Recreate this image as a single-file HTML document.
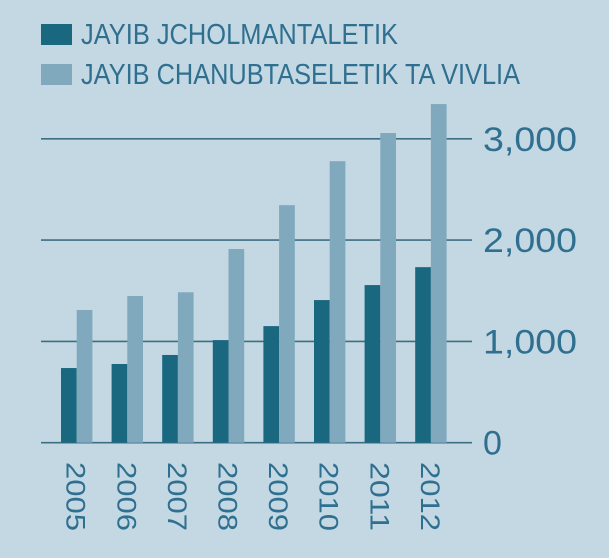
<!DOCTYPE html>
<html><head><meta charset="utf-8"><style>
html,body{margin:0;padding:0;background:#c3d8e3;}
svg{display:block;font-family:"Liberation Sans",sans-serif;}
</style></head><body>
<svg id="chart" width="609" height="558" viewBox="0 0 609 558" xmlns="http://www.w3.org/2000/svg">
<rect x="0" y="0" width="609" height="558" fill="#c3d8e3"/>
<g>
<rect x="41" y="24" width="31" height="21" fill="#1a6880"/>
<text x="81" y="44" font-size="29" fill="#2f6f8f" textLength="317" lengthAdjust="spacingAndGlyphs">JAYIB JCHOLMANTALETIK</text>
<rect x="41" y="64" width="31" height="21" fill="#80a9bd"/>
<text x="81" y="84" font-size="29" fill="#2f6f8f" textLength="439" lengthAdjust="spacingAndGlyphs">JAYIB CHANUBTASELETIK TA VIVLIA</text>
</g>
<g id="grid"></g>
<g id="bars"></g>
<g id="labels"></g>
</svg>
<script>
const years = ["2005","2006","2007","2008","2009","2010","2011","2012"];
const jcholmantaletik = [737, 777, 866, 1013, 1151, 1408, 1556, 1733];
const chanubtaseletik = [1310, 1448, 1485, 1912, 2345, 2779, 3057, 3343];
const yTicks = [0, 1000, 2000, 3000];
const yTickLabels = ["0", "1,000", "2,000", "3,000"];

const NS = "http://www.w3.org/2000/svg";
const y0 = 442.7, pxPer = 0.1013;
function yScale(v){ return y0 - v * pxPer; }
function xScale(i){ return 61 + i * 50.6; }
const bw = 15.7;

const grid = document.getElementById("grid");
yTicks.forEach((t, i) => {
  const l = document.createElementNS(NS, "line");
  l.setAttribute("x1", 41); l.setAttribute("x2", 472);
  l.setAttribute("y1", yScale(t)); l.setAttribute("y2", yScale(t));
  l.setAttribute("stroke", "#3d6f82"); l.setAttribute("stroke-width", "1.6");
  
  
  grid.appendChild(l);
  const tx = document.createElementNS(NS, "text");
  tx.setAttribute("x", 483); tx.setAttribute("y", yScale(t) + 12);
  tx.setAttribute("font-size", "34"); tx.setAttribute("fill", "#2f6f8f");
  if (yTickLabels[i].length > 1) {
    tx.setAttribute("textLength", "94");
    tx.setAttribute("lengthAdjust", "spacingAndGlyphs");
  }
  tx.textContent = yTickLabels[i];
  
  
  grid.appendChild(tx);
});

const bars = document.getElementById("bars");
const labels = document.getElementById("labels");
years.forEach((yr, i) => {
  const x = xScale(i);
  const r1 = document.createElementNS(NS, "rect");
  r1.setAttribute("x", x); r1.setAttribute("width", bw);
  r1.setAttribute("y", yScale(jcholmantaletik[i]));
  r1.setAttribute("height", y0 - yScale(jcholmantaletik[i]));
  r1.setAttribute("fill", "#1a6880");
  
  
  bars.appendChild(r1);
  const r2 = document.createElementNS(NS, "rect");
  r2.setAttribute("x", x + bw); r2.setAttribute("width", bw);
  r2.setAttribute("y", yScale(chanubtaseletik[i]));
  r2.setAttribute("height", y0 - yScale(chanubtaseletik[i]));
  r2.setAttribute("fill", "#80a9bd");
  
  
  bars.appendChild(r2);
  const t = document.createElementNS(NS, "text");
  const cx = x + bw - 10, cy = 462;
  t.setAttribute("x", cx); t.setAttribute("y", cy);
  t.setAttribute("transform", "rotate(90 " + cx + " " + cy + ")");
  t.setAttribute("font-size", "27"); t.setAttribute("fill", "#2f6f8f");
  t.setAttribute("textLength", "69"); t.setAttribute("lengthAdjust", "spacingAndGlyphs");
  t.textContent = yr;
  
  
  labels.appendChild(t);
});
</script>
</body></html>
